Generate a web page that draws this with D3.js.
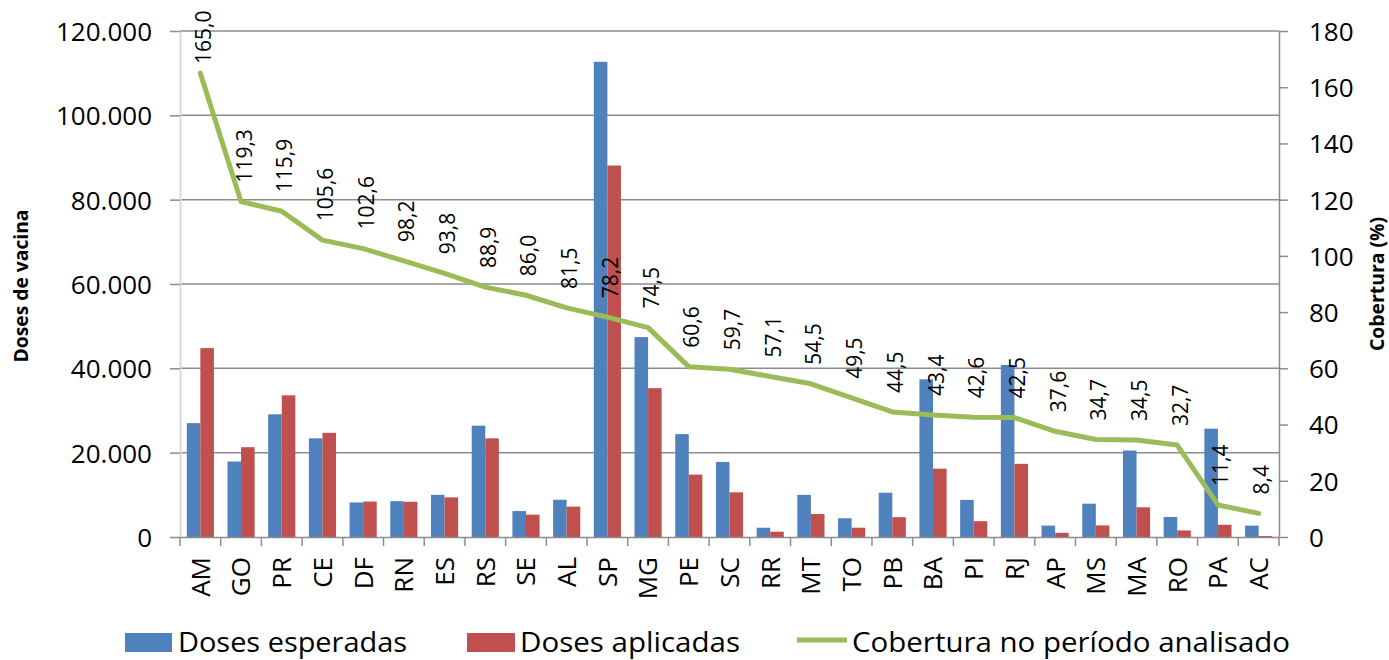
<!DOCTYPE html>
<meta charset="utf-8">
<style>
body { margin: 0; background: #fff; }
text { font-family: "Open Sans", sans-serif; fill: #000; }
.grid line { stroke: #8c8c8c; stroke-width: 1.5; }
.axis path, .axis line { stroke: #8c8c8c; stroke-width: 1.5; }
</style>
<svg id="chart" width="1389" height="660"></svg>
<script src="https://cdnjs.cloudflare.com/ajax/libs/d3/7.8.5/d3.min.js"></script>
<script>

var states = ["AM","GO","PR","CE","DF","RN","ES","RS","SE","AL","SP","MG","PE","SC","RR","MT","TO","PB","BA","PI","RJ","AP","MS","MA","RO","PA","AC"];
var esperadas = [27000,17900,29100,23400,8200,8500,10000,26400,6150,8830,112700,47400,24400,17800,2200,10000,4450,10500,37400,8800,40800,2700,7900,20500,4750,25700,2700];
var aplicadas = [44800,21300,33600,24700,8400,8350,9400,23400,5300,7200,88100,35300,14800,10600,1250,5450,2200,4700,16200,3750,17350,1000,2750,7050,1550,2900,230];
var cobertura = [165.0,119.3,115.9,105.6,102.6,98.2,93.8,88.9,86.0,81.5,78.2,74.5,60.6,59.7,57.1,54.5,49.5,44.5,43.4,42.6,42.5,37.6,34.7,34.5,32.7,11.4,8.4];
var leftTicks = [0,20000,40000,60000,80000,100000,120000];
var rightTicks = [0,20,40,60,80,100,120,140,160,180];
var seriesNames = ["Doses esperadas","Doses aplicadas","Cobertura no período analisado"];

var colors = {esp: "#4F81BD", apl: "#C0504D", cob: "#9BBB59"};

var ptBR = d3.formatLocale({decimal: ",", thousands: ".", grouping: [3], currency: ["R$", ""]});
var fmtThousands = ptBR.format(",.0f"),
    fmtPct = ptBR.format(".1f");

var svg = d3.select("svg"),
    plot = {left: 180, right: 1279, top: 31, bottom: 537};

var x = d3.scaleBand().domain(states).range([plot.left, plot.right]).padding(0);
var xInner = d3.scaleBand().domain(["esp","apl"])
    .range([x.bandwidth() / 6, x.bandwidth() * 5 / 6]);
var y = d3.scaleLinear().domain([0, 120000]).range([plot.bottom, plot.top]);
var y2 = d3.scaleLinear().domain([0, 180]).range([plot.bottom, plot.top]);

// gridlines
svg.append("g").attr("class", "grid")
  .selectAll("line").data(leftTicks.slice(1)).join("line")
    .attr("x1", plot.left).attr("x2", plot.right)
    .attr("y1", d => y(d)).attr("y2", d => y(d));

// bars
var groups = svg.append("g").selectAll("g").data(states).join("g")
    .attr("transform", d => "translate(" + x(d) + ",0)");

groups.append("rect")
    .attr("x", xInner("esp"))
    .attr("width", xInner.bandwidth())
    .attr("y", (d, i) => y(esperadas[i]))
    .attr("height", (d, i) => y(0) - y(esperadas[i]))
    .attr("fill", colors.esp);

groups.append("rect")
    .attr("x", xInner("apl"))
    .attr("width", xInner.bandwidth())
    .attr("y", (d, i) => y(aplicadas[i]))
    .attr("height", (d, i) => y(0) - y(aplicadas[i]))
    .attr("fill", colors.apl);

// left axis
var yAxis = svg.append("g").attr("class", "axis")
    .attr("transform", "translate(" + plot.left + ",0)")
    .call(d3.axisLeft(y).tickValues(leftTicks).tickFormat(fmtThousands).tickSize(10).tickSizeOuter(0).tickPadding(18));
yAxis.select(".domain").style("stroke", "#d9d9d9").style("stroke-width", 2);
yAxis.selectAll("text").style("font-size", "26px").attr("dy", "0.36em");

// right axis
var y2Axis = svg.append("g").attr("class", "axis")
    .attr("transform", "translate(" + plot.right + ",0)")
    .call(d3.axisRight(y2).tickValues(rightTicks).tickSize(9).tickSizeOuter(0).tickPadding(21));
y2Axis.selectAll("text").style("font-size", "26px").attr("dy", "0.36em");

// x axis
var xAxis = svg.append("g").attr("class", "axis")
    .attr("transform", "translate(0," + plot.bottom + ")")
    .call(d3.axisBottom(x).tickSize(0).tickSizeOuter(0));
xAxis.selectAll(".tick line").remove();
xAxis.selectAll("text")
    .style("font-size", "26px")
    .attr("text-anchor", "end")
    .attr("transform", "rotate(-90)")
    .attr("x", -20).attr("y", 0).attr("dy", "0.36em");
// category boundary ticks
xAxis.append("g").selectAll("line").data(states.concat(["_end"])).join("line")
    .attr("x1", (d, i) => plot.left + i * x.bandwidth())
    .attr("x2", (d, i) => plot.left + i * x.bandwidth())
    .attr("y1", 0).attr("y2", 9);

// coverage line
var line = d3.line()
    .x((d, i) => x(states[i]) + x.bandwidth() / 2)
    .y(d => y2(d));

svg.append("path")
    .datum(cobertura)
    .attr("d", line)
    .attr("fill", "none")
    .attr("stroke", colors.cob)
    .attr("stroke-width", 5)
    .attr("stroke-linejoin", "round")
    .attr("stroke-linecap", "round");

svg.append("g").selectAll("text").data(cobertura).join("text")
    .attr("transform", (d, i) => {
      var px = x(states[i]) + x.bandwidth() / 2,
          py = Math.max(y2(d) - 19, 64);
      return "translate(" + px + "," + py + ") rotate(-90)";
    })
    .attr("dy", "0.5em")
    .style("font-size", "21px")
    .text(d => fmtPct(d));

// axis titles
svg.append("text")
    .attr("transform", "translate(28,286) rotate(-90)")
    .attr("text-anchor", "middle")
    .attr("textLength", 153).attr("lengthAdjust", "spacingAndGlyphs")
    .style("font-size", "20px").style("font-weight", "bold")
    .text("Doses de vacina");

svg.append("text")
    .attr("transform", "translate(1384,284) rotate(-90)")
    .attr("text-anchor", "middle")
    .attr("textLength", 134).attr("lengthAdjust", "spacingAndGlyphs")
    .style("font-size", "20px").style("font-weight", "bold")
    .text("Cobertura (%)");

// legend
var legend = svg.append("g");
legend.append("rect").attr("x", 125).attr("y", 633).attr("width", 47).attr("height", 19).attr("fill", colors.esp);
legend.append("text").attr("x", 178).attr("y", 652)
    .attr("textLength", 229).attr("lengthAdjust", "spacingAndGlyphs")
    .style("font-size", "27px").text(seriesNames[0]);
legend.append("rect").attr("x", 467).attr("y", 633).attr("width", 48).attr("height", 19).attr("fill", colors.apl);
legend.append("text").attr("x", 520).attr("y", 652)
    .attr("textLength", 220).attr("lengthAdjust", "spacingAndGlyphs")
    .style("font-size", "27px").text(seriesNames[1]);
legend.append("line").attr("x1", 797).attr("x2", 847).attr("y1", 640).attr("y2", 640)
    .attr("stroke", colors.cob).attr("stroke-width", 5);
legend.append("text").attr("x", 852).attr("y", 652)
    .attr("textLength", 438).attr("lengthAdjust", "spacingAndGlyphs")
    .style("font-size", "27px").text(seriesNames[2]);

</script>
